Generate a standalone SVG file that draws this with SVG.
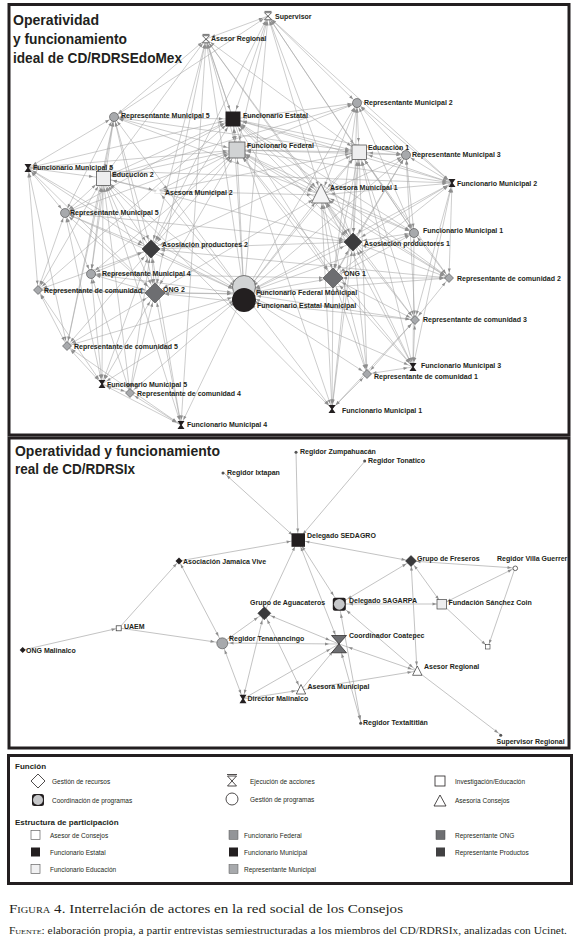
<svg xmlns="http://www.w3.org/2000/svg" width="580" height="942" viewBox="0 0 580 942">
<style>
.c line{stroke:#a4a4a4;stroke-width:0.55;fill:none}
.cb line{stroke:#9a9a9a;stroke-width:0.6;fill:none}
.s3{marker-start:url(#m3)}.s5{marker-start:url(#m5)}.s7{marker-start:url(#m7)}.s9{marker-start:url(#m9)}.s13{marker-start:url(#m13)}
.e3{marker-end:url(#m3)}.e5{marker-end:url(#m5)}.e7{marker-end:url(#m7)}.e9{marker-end:url(#m9)}.e13{marker-end:url(#m13)}
marker path{fill:#8e8e8e}
.panel{fill:none;stroke:#231f20;stroke-width:3}
.lb{font-family:"Liberation Sans",Arial,sans-serif;font-size:7px;font-weight:bold;fill:#231f20}
.tt{font-family:"Liberation Sans",Arial,sans-serif;font-size:15.5px;font-weight:bold;fill:#231f20}
.lh{font-family:"Liberation Sans",Arial,sans-serif;font-size:8px;font-weight:bold;fill:#231f20}
.lt{font-family:"Liberation Sans",Arial,sans-serif;font-size:6.5px;fill:#231f20}
.cap{font-family:"Liberation Serif","Times New Roman",serif;fill:#231f20}
.sc{font-variant:small-caps}
.gc{fill:#a7a9ac;stroke:#333;stroke-width:0.5}
.hg{fill:#231f20}
.hgo{fill:#fff;stroke:#333;stroke-width:0.7}
.rc{fill:#a7a9ac;stroke:#333;stroke-width:0.5}
.ed{fill:#eeeeef;stroke:#444;stroke-width:0.7}
.dot{fill:#555}
</style>
<defs>
<marker id="m3" markerUnits="userSpaceOnUse" orient="auto-start-reverse" refX="7.5" refY="0" markerWidth="10" markerHeight="10" overflow="visible"><path d="M0,-1.5L4,0L0,1.5Z"/></marker>
<marker id="m5" markerUnits="userSpaceOnUse" orient="auto-start-reverse" refX="9.5" refY="0" markerWidth="10" markerHeight="10" overflow="visible"><path d="M0,-1.5L4,0L0,1.5Z"/></marker>
<marker id="m7" markerUnits="userSpaceOnUse" orient="auto-start-reverse" refX="11.5" refY="0" markerWidth="10" markerHeight="10" overflow="visible"><path d="M0,-1.5L4,0L0,1.5Z"/></marker>
<marker id="m9" markerUnits="userSpaceOnUse" orient="auto-start-reverse" refX="14" refY="0" markerWidth="10" markerHeight="10" overflow="visible"><path d="M0,-1.5L4,0L0,1.5Z"/></marker>
<marker id="m13" markerUnits="userSpaceOnUse" orient="auto-start-reverse" refX="17" refY="0" markerWidth="10" markerHeight="10" overflow="visible"><path d="M0,-1.5L4,0L0,1.5Z"/></marker>
</defs>
<rect width="580" height="942" fill="#fff"/>

<!-- panels -->
<rect class="panel" x="9" y="4.5" width="560" height="430.5"/>
<rect class="panel" x="9" y="438" width="560" height="310"/>
<rect class="panel" x="8.5" y="755.5" width="563" height="128"/>

<text class="tt" x="13" y="25" textLength="86" lengthAdjust="spacingAndGlyphs">Operatividad</text>
<text class="tt" x="13" y="43.5" textLength="114" lengthAdjust="spacingAndGlyphs">y funcionamiento</text>
<text class="tt" x="13" y="62.5" textLength="169" lengthAdjust="spacingAndGlyphs">ideal de CD/RDRSEdoMex</text>
<text class="tt" x="15" y="456" textLength="205" lengthAdjust="spacingAndGlyphs">Operatividad y funcionamiento</text>
<text class="tt" x="15" y="474" textLength="120" lengthAdjust="spacingAndGlyphs">real de CD/RDRSIx</text>

<g id="connectors">
<g class="c" id="connectors-ideal">
<line class="s5 e13" x1="268" y1="16" x2="244" y2="294"/>
<line class="s5 e13" x1="206" y1="39" x2="244" y2="294"/>
<line class="s5 e13" x1="114" y1="117" x2="244" y2="294"/>
<line class="s9 e13" x1="233" y1="119" x2="244" y2="294"/>
<line class="s9 e13" x1="237" y1="150" x2="244" y2="294"/>
<line class="s5 e13" x1="28" y1="168" x2="244" y2="294"/>
<line class="s9 e13" x1="103" y1="178" x2="244" y2="294"/>
<line class="s5 e13" x1="158" y1="191" x2="244" y2="294"/>
<line class="s5 e13" x1="65" y1="213" x2="244" y2="294"/>
<line class="s5 e13" x1="357" y1="103" x2="244" y2="294"/>
<line class="s9 e13" x1="359" y1="152" x2="244" y2="294"/>
<line class="s5 e13" x1="406" y1="155" x2="244" y2="294"/>
<line class="s5 e13" x1="452" y1="183" x2="244" y2="294"/>
<line class="s9 e13" x1="321" y1="195" x2="244" y2="294"/>
<line class="s5 e13" x1="414" y1="233" x2="244" y2="294"/>
<line class="s9 e13" x1="353" y1="242" x2="244" y2="294"/>
<line class="s9 e13" x1="333" y1="278" x2="244" y2="294"/>
<line class="s5 e13" x1="449" y1="278" x2="244" y2="294"/>
<line class="s5 e13" x1="415" y1="320" x2="244" y2="294"/>
<line class="s5 e13" x1="413" y1="367" x2="244" y2="294"/>
<line class="s5 e13" x1="367" y1="374" x2="244" y2="294"/>
<line class="s5 e13" x1="332" y1="409" x2="244" y2="294"/>
<line class="s9 e13" x1="151" y1="249" x2="244" y2="294"/>
<line class="s5 e13" x1="91" y1="274" x2="244" y2="294"/>
<line class="s9 e13" x1="155" y1="293" x2="244" y2="294"/>
<line class="s5 e13" x1="38" y1="290" x2="244" y2="294"/>
<line class="s5 e13" x1="67" y1="346" x2="244" y2="294"/>
<line class="s5 e13" x1="102" y1="384" x2="244" y2="294"/>
<line class="s5 e13" x1="130" y1="393" x2="244" y2="294"/>
<line class="s5 e13" x1="181" y1="425" x2="244" y2="294"/>

<line class="s5 e9" x1="268" y1="16" x2="233" y2="119"/>
<line class="s5 e9" x1="206" y1="39" x2="233" y2="119"/>
<line class="s5 e9" x1="114" y1="117" x2="233" y2="119"/>
<line class="s5 e9" x1="28" y1="168" x2="233" y2="119"/>
<line class="s9 e9" x1="103" y1="178" x2="233" y2="119"/>
<line class="s5 e9" x1="357" y1="103" x2="233" y2="119"/>
<line class="s9 e9" x1="359" y1="152" x2="233" y2="119"/>
<line class="s5 e9" x1="406" y1="155" x2="233" y2="119"/>
<line class="s5 e9" x1="452" y1="183" x2="233" y2="119"/>
<line class="s9 e9" x1="321" y1="195" x2="233" y2="119"/>
<line class="s9 e9" x1="353" y1="242" x2="233" y2="119"/>
<line class="s9 e9" x1="333" y1="278" x2="233" y2="119"/>
<line class="s5 e9" x1="65" y1="213" x2="233" y2="119"/>
<line class="s9 e9" x1="151" y1="249" x2="233" y2="119"/>
<line class="s5 e9" x1="38" y1="290" x2="233" y2="119"/>
<line class="s9 e9" x1="237" y1="150" x2="233" y2="119"/>
<line class="s5 e9" x1="449" y1="278" x2="233" y2="119"/>
<line class="s5 e9" x1="414" y1="233" x2="233" y2="119"/>

<line class="s5 e9" x1="268" y1="16" x2="237" y2="150"/>
<line class="s5 e9" x1="206" y1="39" x2="237" y2="150"/>
<line class="s5 e9" x1="114" y1="117" x2="237" y2="150"/>
<line class="s5 e9" x1="28" y1="168" x2="237" y2="150"/>
<line class="s9 e9" x1="103" y1="178" x2="237" y2="150"/>
<line class="s5 e9" x1="158" y1="191" x2="237" y2="150"/>
<line class="s5 e9" x1="357" y1="103" x2="237" y2="150"/>
<line class="s9 e9" x1="359" y1="152" x2="237" y2="150"/>
<line class="s5 e9" x1="406" y1="155" x2="237" y2="150"/>
<line class="s5 e9" x1="452" y1="183" x2="237" y2="150"/>
<line class="s9 e9" x1="321" y1="195" x2="237" y2="150"/>
<line class="s9 e9" x1="353" y1="242" x2="237" y2="150"/>
<line class="s9 e9" x1="333" y1="278" x2="237" y2="150"/>
<line class="s9 e9" x1="151" y1="249" x2="237" y2="150"/>
<line class="s9 e9" x1="155" y1="293" x2="237" y2="150"/>
<line class="s5 e9" x1="65" y1="213" x2="237" y2="150"/>
<line class="s5 e9" x1="91" y1="274" x2="237" y2="150"/>
<line class="s5 e9" x1="414" y1="233" x2="237" y2="150"/>
<line class="s5 e9" x1="449" y1="278" x2="237" y2="150"/>
<line class="s5 e9" x1="413" y1="367" x2="237" y2="150"/>

<line class="s5 e9" x1="268" y1="16" x2="359" y2="152"/>
<line class="s5 e9" x1="206" y1="39" x2="359" y2="152"/>
<line class="s5 e9" x1="357" y1="103" x2="359" y2="152"/>
<line class="s5 e9" x1="406" y1="155" x2="359" y2="152"/>
<line class="s5 e9" x1="452" y1="183" x2="359" y2="152"/>
<line class="s9 e9" x1="321" y1="195" x2="359" y2="152"/>
<line class="s9 e9" x1="353" y1="242" x2="359" y2="152"/>
<line class="s9 e9" x1="333" y1="278" x2="359" y2="152"/>
<line class="s5 e9" x1="414" y1="233" x2="359" y2="152"/>
<line class="s5 e9" x1="449" y1="278" x2="359" y2="152"/>
<line class="s5 e9" x1="415" y1="320" x2="359" y2="152"/>
<line class="s5 e9" x1="413" y1="367" x2="359" y2="152"/>
<line class="s5 e9" x1="367" y1="374" x2="359" y2="152"/>
<line class="s5 e9" x1="332" y1="409" x2="359" y2="152"/>
<line class="s9 e9" x1="151" y1="249" x2="359" y2="152"/>
<line class="s5 e9" x1="114" y1="117" x2="359" y2="152"/>
<line class="s5 e9" x1="158" y1="191" x2="359" y2="152"/>

<line class="s5 e9" x1="206" y1="39" x2="103" y2="178"/>
<line class="s5 e9" x1="114" y1="117" x2="103" y2="178"/>
<line class="s5 e9" x1="28" y1="168" x2="103" y2="178"/>
<line class="s5 e9" x1="65" y1="213" x2="103" y2="178"/>
<line class="s5 e9" x1="91" y1="274" x2="103" y2="178"/>
<line class="s9 e9" x1="151" y1="249" x2="103" y2="178"/>
<line class="s9 e9" x1="155" y1="293" x2="103" y2="178"/>
<line class="s5 e9" x1="38" y1="290" x2="103" y2="178"/>
<line class="s5 e9" x1="67" y1="346" x2="103" y2="178"/>
<line class="s5 e9" x1="102" y1="384" x2="103" y2="178"/>
<line class="s5 e9" x1="130" y1="393" x2="103" y2="178"/>
<line class="s5 e9" x1="181" y1="425" x2="103" y2="178"/>
<line class="s5 e9" x1="158" y1="191" x2="103" y2="178"/>
<line class="s5 e9" x1="357" y1="103" x2="103" y2="178"/>
<line class="s5 e9" x1="332" y1="409" x2="103" y2="178"/>

<line class="s5 e9" x1="268" y1="16" x2="321" y2="195"/>
<line class="s5 e9" x1="206" y1="39" x2="321" y2="195"/>
<line class="s5 e9" x1="357" y1="103" x2="321" y2="195"/>
<line class="s5 e9" x1="406" y1="155" x2="321" y2="195"/>
<line class="s5 e9" x1="452" y1="183" x2="321" y2="195"/>
<line class="s9 e9" x1="353" y1="242" x2="321" y2="195"/>
<line class="s9 e9" x1="333" y1="278" x2="321" y2="195"/>
<line class="s5 e9" x1="414" y1="233" x2="321" y2="195"/>
<line class="s5 e9" x1="449" y1="278" x2="321" y2="195"/>
<line class="s5 e9" x1="415" y1="320" x2="321" y2="195"/>
<line class="s5 e9" x1="413" y1="367" x2="321" y2="195"/>
<line class="s5 e9" x1="367" y1="374" x2="321" y2="195"/>
<line class="s5 e9" x1="332" y1="409" x2="321" y2="195"/>
<line class="s5 e9" x1="158" y1="191" x2="321" y2="195"/>
<line class="s5 e9" x1="114" y1="117" x2="321" y2="195"/>
<line class="s9 e9" x1="155" y1="293" x2="321" y2="195"/>

<line class="s5 e9" x1="357" y1="103" x2="353" y2="242"/>
<line class="s5 e9" x1="406" y1="155" x2="353" y2="242"/>
<line class="s5 e9" x1="452" y1="183" x2="353" y2="242"/>
<line class="s5 e9" x1="414" y1="233" x2="353" y2="242"/>
<line class="s5 e9" x1="449" y1="278" x2="353" y2="242"/>
<line class="s5 e9" x1="415" y1="320" x2="353" y2="242"/>
<line class="s5 e9" x1="413" y1="367" x2="353" y2="242"/>
<line class="s5 e9" x1="367" y1="374" x2="353" y2="242"/>
<line class="s5 e9" x1="332" y1="409" x2="353" y2="242"/>
<line class="s9 e9" x1="333" y1="278" x2="353" y2="242"/>
<line class="s5 e9" x1="206" y1="39" x2="353" y2="242"/>
<line class="s5 e9" x1="268" y1="16" x2="353" y2="242"/>
<line class="s9 e9" x1="151" y1="249" x2="353" y2="242"/>
<line class="s5 e9" x1="65" y1="213" x2="353" y2="242"/>
<line class="s9 e9" x1="103" y1="178" x2="353" y2="242"/>

<line class="s5 e9" x1="114" y1="117" x2="151" y2="249"/>
<line class="s5 e9" x1="28" y1="168" x2="151" y2="249"/>
<line class="s5 e9" x1="65" y1="213" x2="151" y2="249"/>
<line class="s5 e9" x1="91" y1="274" x2="151" y2="249"/>
<line class="s9 e9" x1="155" y1="293" x2="151" y2="249"/>
<line class="s5 e9" x1="38" y1="290" x2="151" y2="249"/>
<line class="s5 e9" x1="67" y1="346" x2="151" y2="249"/>
<line class="s5 e9" x1="102" y1="384" x2="151" y2="249"/>
<line class="s5 e9" x1="130" y1="393" x2="151" y2="249"/>
<line class="s5 e9" x1="181" y1="425" x2="151" y2="249"/>
<line class="s5 e9" x1="206" y1="39" x2="151" y2="249"/>
<line class="s5 e9" x1="268" y1="16" x2="151" y2="249"/>
<line class="s5 e9" x1="449" y1="278" x2="151" y2="249"/>

<line class="s5 e9" x1="406" y1="155" x2="333" y2="278"/>
<line class="s5 e9" x1="452" y1="183" x2="333" y2="278"/>
<line class="s5 e9" x1="414" y1="233" x2="333" y2="278"/>
<line class="s5 e9" x1="449" y1="278" x2="333" y2="278"/>
<line class="s5 e9" x1="415" y1="320" x2="333" y2="278"/>
<line class="s5 e9" x1="413" y1="367" x2="333" y2="278"/>
<line class="s5 e9" x1="367" y1="374" x2="333" y2="278"/>
<line class="s5 e9" x1="332" y1="409" x2="333" y2="278"/>
<line class="s5 e9" x1="357" y1="103" x2="333" y2="278"/>
<line class="s5 e9" x1="91" y1="274" x2="333" y2="278"/>

<line class="s5 e9" x1="114" y1="117" x2="155" y2="293"/>
<line class="s5 e9" x1="28" y1="168" x2="155" y2="293"/>
<line class="s5 e9" x1="65" y1="213" x2="155" y2="293"/>
<line class="s5 e9" x1="91" y1="274" x2="155" y2="293"/>
<line class="s5 e9" x1="38" y1="290" x2="155" y2="293"/>
<line class="s5 e9" x1="67" y1="346" x2="155" y2="293"/>
<line class="s5 e9" x1="102" y1="384" x2="155" y2="293"/>
<line class="s5 e9" x1="130" y1="393" x2="155" y2="293"/>
<line class="s5 e9" x1="181" y1="425" x2="155" y2="293"/>
<line class="s5 e9" x1="206" y1="39" x2="155" y2="293"/>
<line class="s5 e9" x1="415" y1="320" x2="155" y2="293"/>

<line class="s5 e5" x1="357" y1="103" x2="406" y2="155"/>
<line class="s5 e5" x1="357" y1="103" x2="452" y2="183"/>
<line class="s5 e5" x1="406" y1="155" x2="452" y2="183"/>
<line class="s5 e5" x1="406" y1="155" x2="414" y2="233"/>
<line class="s5 e5" x1="452" y1="183" x2="449" y2="278"/>
<line class="s5 e5" x1="414" y1="233" x2="449" y2="278"/>
<line class="s5 e5" x1="449" y1="278" x2="415" y2="320"/>
<line class="s5 e5" x1="415" y1="320" x2="413" y2="367"/>
<line class="s5 e5" x1="415" y1="320" x2="367" y2="374"/>
<line class="s5 e5" x1="413" y1="367" x2="367" y2="374"/>
<line class="s5 e5" x1="367" y1="374" x2="332" y2="409"/>
<line class="s5 e5" x1="332" y1="409" x2="415" y2="320"/>
<line class="s5 e5" x1="357" y1="103" x2="414" y2="233"/>
<line class="s5 e5" x1="268" y1="16" x2="357" y2="103"/>
<line class="s5 e5" x1="268" y1="16" x2="206" y2="39"/>
<line class="s5 e5" x1="268" y1="16" x2="114" y2="117"/>
<line class="s5 e5" x1="206" y1="39" x2="114" y2="117"/>
<line class="s5 e5" x1="206" y1="39" x2="181" y2="425"/>
<line class="s5 e5" x1="114" y1="117" x2="28" y2="168"/>
<line class="s5 e5" x1="114" y1="117" x2="65" y2="213"/>
<line class="s5 e5" x1="114" y1="117" x2="91" y2="274"/>
<line class="s5 e5" x1="114" y1="117" x2="67" y2="346"/>
<line class="s5 e5" x1="28" y1="168" x2="65" y2="213"/>
<line class="s5 e5" x1="28" y1="168" x2="38" y2="290"/>
<line class="s5 e5" x1="28" y1="168" x2="67" y2="346"/>
<line class="s5 e5" x1="65" y1="213" x2="91" y2="274"/>
<line class="s5 e5" x1="65" y1="213" x2="38" y2="290"/>
<line class="s5 e5" x1="65" y1="213" x2="102" y2="384"/>
<line class="s5 e5" x1="38" y1="290" x2="67" y2="346"/>
<line class="s5 e5" x1="38" y1="290" x2="102" y2="384"/>
<line class="s5 e5" x1="67" y1="346" x2="102" y2="384"/>
<line class="s5 e5" x1="67" y1="346" x2="181" y2="425"/>
<line class="s5 e5" x1="102" y1="384" x2="130" y2="393"/>
<line class="s5 e5" x1="102" y1="384" x2="181" y2="425"/>
<line class="s5 e5" x1="130" y1="393" x2="181" y2="425"/>
<line class="s5 e5" x1="91" y1="274" x2="102" y2="384"/>
<line class="s5 e5" x1="91" y1="274" x2="130" y2="393"/>
<line class="s5 e5" x1="452" y1="183" x2="413" y2="367"/>
<line class="s5 e5" x1="452" y1="183" x2="415" y2="320"/>
<line class="s5 e5" x1="406" y1="155" x2="415" y2="320"/>
<line class="s5 e5" x1="414" y1="233" x2="413" y2="367"/>
<line class="s5 e5" x1="268" y1="16" x2="414" y2="233"/>
<line class="s5 e5" x1="206" y1="39" x2="332" y2="409"/>
<line class="s5 e5" x1="268" y1="16" x2="452" y2="183"/>
<line class="s5 e5" x1="28" y1="168" x2="452" y2="183"/>
</g>

<g class="cb" id="connectors-real">
<line class="e7" x1="296" y1="452" x2="298" y2="540"/>
<line class="e7" x1="365" y1="461" x2="298" y2="540"/>
<line class="s3 e7" x1="224" y1="473" x2="298" y2="540"/>
<line class="e7" x1="179" y1="561" x2="298" y2="540"/>
<line class="s7 e5" x1="298" y1="540" x2="411" y2="561"/>
<line class="s5 e3" x1="411" y1="561" x2="515" y2="568"/>
<line class="e7" x1="264" y1="613" x2="298" y2="540"/>
<line class="s7 e9" x1="298" y1="540" x2="339" y2="644"/>
<line class="s7 e9" x1="298" y1="540" x2="339" y2="604"/>
<line class="s5 e9" x1="411" y1="561" x2="339" y2="604"/>
<line class="s5 e5" x1="411" y1="561" x2="417" y2="671"/>
<line class="s5 e5" x1="411" y1="561" x2="442" y2="604"/>
<line class="s5 e3" x1="442" y1="604" x2="515" y2="568"/>
<line class="e3" x1="515" y1="568" x2="488" y2="647"/>
<line class="e3" x1="442" y1="604" x2="488" y2="647"/>
<line class="s9 e5" x1="339" y1="604" x2="442" y2="604"/>
<line class="s9 e5" x1="339" y1="604" x2="417" y2="671"/>
<line class="s9 e3" x1="339" y1="604" x2="361" y2="723"/>
<line class="s9 e3" x1="339" y1="644" x2="361" y2="723"/>
<line class="s9 e5" x1="339" y1="644" x2="417" y2="671"/>
<line class="s9 e7" x1="339" y1="644" x2="264" y2="613"/>
<line class="s9 e7" x1="339" y1="644" x2="222" y2="643"/>
<line class="e9" x1="243" y1="699" x2="339" y2="644"/>
<line class="e9" x1="301" y1="690" x2="339" y2="644"/>
<line class="s7 e7" x1="264" y1="613" x2="222" y2="643"/>
<line class="s7 e5" x1="264" y1="613" x2="243" y2="699"/>
<line class="s7 e5" x1="264" y1="613" x2="301" y2="690"/>
<line class="s7 e5" x1="222" y1="643" x2="243" y2="699"/>
<line class="e5" x1="243" y1="699" x2="301" y2="690"/>
<line class="e5" x1="301" y1="690" x2="417" y2="671"/>
<line class="e3" x1="417" y1="671" x2="501" y2="735"/>
<line class="s7 e3" x1="222" y1="643" x2="179" y2="561"/>
<line class="e3" x1="119" y1="628" x2="179" y2="561"/>
<line class="e7" x1="119" y1="628" x2="222" y2="643"/>
<line class="e3" x1="23" y1="650" x2="119" y2="628"/>
</g>
</g>

<!-- ideal network nodes -->
<g id="n-supervisor"><path class="hgo" transform="translate(268,16)" d="M-3.5,-4.6H3.5M-3.5,-3.3H3.5L-3.5,3.8H3.5Z"/><text class="lb" x="275" y="19">Supervisor</text></g>
<g id="n-asesor-regional"><path class="hgo" transform="translate(206,39)" d="M-3.5,-4.6H3.5M-3.5,-3.3H3.5L-3.5,3.8H3.5Z"/><text class="lb" x="211" y="40.5">Asesor Regional</text></g>
<g id="n-rep-mun-5a"><circle class="gc" cx="114" cy="117" r="4.5"/><text class="lb" x="121" y="118">Representante Municipal 5</text></g>
<g id="n-func-estatal"><rect x="225.5" y="111.5" width="15" height="15" fill="#231f20"/><text class="lb" x="243" y="118">Funcionario Estatal</text></g>
<g id="n-func-federal"><rect x="229" y="142" width="16" height="16" fill="#d1d3d4" stroke="#444" stroke-width="0.7"/><text class="lb" x="247" y="148">Funcionario Federal</text></g>
<g id="n-func-mun-5a"><path class="hg" transform="translate(28,168)" d="M-3.5,-4H3.5L0.7,0L3.5,4H-3.5L-0.7,0Z"/><text class="lb" x="33" y="169.5">Funcionario Municipal 5</text></g>
<g id="n-educucion-2"><rect class="ed" x="96.5" y="171.5" width="14" height="14"/><text class="lb" x="112" y="176.5">Educución 2</text></g>
<g id="n-asesora-mun-2"><path d="M158,187.5L161.5,193.5H154.5Z" fill="#fff" stroke="#ddd" stroke-width="0.5"/><text class="lb" x="165" y="194.5">Asesora Municipal 2</text></g>
<g id="n-rep-mun-5b"><circle class="gc" cx="65" cy="213" r="4.5"/><text class="lb" x="70" y="214.5">Representante Municipal 5</text></g>
<g id="n-rep-mun-2"><circle class="gc" cx="357" cy="103" r="4.5"/><text class="lb" x="364" y="105">Representante Municipal 2</text></g>
<g id="n-educacion-1"><rect class="ed" x="352" y="145" width="14.5" height="14.5"/><text class="lb" x="368" y="149.5">Educación 1</text></g>
<g id="n-rep-mun-3"><circle class="gc" cx="406" cy="155" r="4.5"/><text class="lb" x="412" y="156.5">Representante Municipal 3</text></g>
<g id="n-func-mun-2"><path class="hg" transform="translate(452,183)" d="M-3.5,-4H3.5L0.7,0L3.5,4H-3.5L-0.7,0Z"/><text class="lb" x="457" y="185.5">Funcionario Municipal 2</text></g>
<g id="n-asesora-mun-1"><path d="M321,184L330.5,203H311.5Z" fill="#f4f4f5" stroke="#444" stroke-width="0.7"/><text class="lb" x="330" y="190">Asesora Municipal 1</text></g>
<g id="n-func-mun-1c"><circle class="gc" cx="414" cy="233" r="4.5"/><text class="lb" x="423" y="232.5">Funcionario Municipal 1</text></g>
<g id="n-asoc-prod-1"><path d="M353,233L362,242L353,251L344,242Z" fill="#3c3c3e" stroke="#222" stroke-width="0.5"/><text class="lb" x="364" y="245.5">Asosiación productores 1</text></g>
<g id="n-ong-1"><path d="M333,268L343,278L333,288L323,278Z" fill="#6d6e71" stroke="#333" stroke-width="0.5"/><text class="lb" x="344" y="275.5">ONG 1</text></g>
<g id="n-rep-com-2"><path class="rc" d="M449,273.5L453.5,278L449,282.5L444.5,278Z"/><text class="lb" x="457" y="280.5">Representante de comunidad 2</text></g>
<g id="n-rep-com-3"><path class="rc" d="M415,315.5L419.5,320L415,324.5L410.5,320Z"/><text class="lb" x="423" y="321.5">Representante de comunidad 3</text></g>
<g id="n-func-mun-3"><path class="hg" transform="translate(413,367)" d="M-3.5,-4H3.5L0.7,0L3.5,4H-3.5L-0.7,0Z"/><text class="lb" x="421" y="367.5">Funcionario Municipal 3</text></g>
<g id="n-rep-com-1"><path class="rc" d="M367,369.5L371.5,374L367,378.5L362.5,374Z"/><text class="lb" x="374" y="378.5">Representante de comunidad 1</text></g>
<g id="n-func-mun-1"><path class="hg" transform="translate(332,409)" d="M-3.5,-4H3.5L0.7,0L3.5,4H-3.5L-0.7,0Z"/><text class="lb" x="342" y="412.5">Funcionario Municipal 1</text></g>
<g id="n-func-fed-mun"><circle cx="244" cy="287" r="11.5" fill="#d1d3d4" stroke="#333" stroke-width="0.6"/><text class="lb" x="256" y="295">Funcionario Federal Municipal</text></g>
<g id="n-func-est-mun"><circle cx="244" cy="300" r="12" fill="#231f20"/><text class="lb" x="257" y="308">Funcionario Estatal Municipal</text></g>
<g id="n-asoc-prod-2"><path d="M151,240L160,249L151,258L142,249Z" fill="#3c3c3e" stroke="#222" stroke-width="0.5"/><text class="lb" x="162" y="246.5">Asosiación productores 2</text></g>
<g id="n-rep-mun-4"><circle class="gc" cx="91" cy="274" r="4.5"/><text class="lb" x="102" y="275.5">Representante Municipal 4</text></g>
<g id="n-ong-2"><path d="M155,283L165,293L155,303L145,293Z" fill="#6d6e71" stroke="#333" stroke-width="0.5"/><text class="lb" x="163" y="291.5">ONG 2</text></g>
<g id="n-rep-com"><path class="rc" d="M38,285.5L42.5,290L38,294.5L33.5,290Z"/><text class="lb" x="44" y="292.5">Representante de comunidad</text></g>
<g id="n-rep-com-5"><path class="rc" d="M67,341.5L71.5,346L67,350.5L62.5,346Z"/><text class="lb" x="74" y="348.5">Representante de comunidad 5</text></g>
<g id="n-func-mun-5b"><path class="hg" transform="translate(102,384)" d="M-3.5,-4H3.5L0.7,0L3.5,4H-3.5L-0.7,0Z"/><text class="lb" x="107" y="386.5">Funcionario Municipal 5</text></g>
<g id="n-rep-com-4"><path class="rc" d="M130,388.5L134.5,393L130,397.5L125.5,393Z"/><text class="lb" x="137" y="395.5">Representante de comunidad 4</text></g>
<g id="n-func-mun-4"><path class="hg" transform="translate(181,425)" d="M-3.5,-4H3.5L0.7,0L3.5,4H-3.5L-0.7,0Z"/><text class="lb" x="187" y="426.5">Funcionario Municipal 4</text></g>

<!-- real network nodes -->
<g id="r-sedagro"><rect x="291.5" y="533.3" width="13.5" height="13.5" fill="#231f20"/><text class="lb" x="307" y="537.5">Delegado SEDAGRO</text></g>
<g id="r-zumpahuacan"><circle class="dot" cx="296" cy="452.3" r="1.5"/><text class="lb" x="300" y="454">Regidor Zumpahuacán</text></g>
<g id="r-tonatico"><circle class="dot" cx="364.7" cy="461" r="1.5"/><text class="lb" x="368" y="462.5">Regidor Tonatico</text></g>
<g id="r-ixtapan"><circle class="dot" cx="223" cy="473" r="1.5"/><text class="lb" x="227" y="475">Regidor Ixtapan</text></g>
<g id="r-freseros"><path d="M411,555.5L416.5,561L411,566.5L405.5,561Z" fill="#3a3a3c" stroke="#222" stroke-width="0.5"/><text class="lb" x="417" y="560.5">Grupo de Freseros</text></g>
<g id="r-villa-guerrero"><circle cx="515.3" cy="568.3" r="2.3" fill="#fff" stroke="#444" stroke-width="0.8"/><text class="lb" x="497" y="560.5">Regidor Villa Guerrer</text></g>
<g id="r-jamaica"><path d="M179,557.5L182.5,561L179,564.5L175.5,561Z" fill="#231f20"/><text class="lb" x="183" y="563.5">Asociación Jamaica Vive</text></g>
<g id="r-uaem"><rect x="116.2" y="625.8" width="5" height="5" fill="#fff" stroke="#333" stroke-width="0.7"/><text class="lb" x="124" y="628.5">UAEM</text></g>
<g id="r-ong-malinalco"><path d="M22.7,647L25.7,650L22.7,653L19.7,650Z" fill="#231f20"/><text class="lb" x="26" y="652.5">ONG Malinalco</text></g>
<g id="r-tenanancingo"><circle class="gc" cx="222.3" cy="643.3" r="5.5"/><text class="lb" x="229" y="640.5">Regidor Tenanancingo</text></g>
<g id="r-aguacateros"><path d="M264.3,606.8L270.8,613.3L264.3,619.8L257.8,613.3Z" fill="#3a3a3c" stroke="#222" stroke-width="0.5"/><text class="lb" x="250" y="604.5">Grupo de Aguacateros</text></g>
<g id="r-sagarpa"><rect x="332.8" y="597.8" width="13" height="13" rx="2" fill="#231f20"/><circle cx="339.3" cy="604.3" r="5.4" fill="#c7c8ca"/><text class="lb" x="349" y="602.5">Delegado SAGARPA</text></g>
<g id="r-coatepec"><path d="M331.5,635.5H346.5L339,644L346.5,652.8H331.5L339,644Z" fill="#6d6e71" stroke="#231f20" stroke-width="0.7"/><text class="lb" x="349" y="638">Coordinador Coatepec</text></g>
<g id="r-fundacion"><rect class="ed" x="437" y="599.5" width="9.5" height="9.5"/><text class="lb" x="448.5" y="605">Fundación Sánchez Coin</text></g>
<g id="r-square"><rect x="485.5" y="644.5" width="4.5" height="4.5" fill="#fff" stroke="#333" stroke-width="0.6"/></g>
<g id="r-asesor-regional"><path d="M417.3,666L422,675.3H412.6Z" fill="#fff" stroke="#333" stroke-width="0.7"/><text class="lb" x="424" y="669">Asesor Regional</text></g>
<g id="r-asesora-municipal"><path d="M301,684.5L305.7,694H296.3Z" fill="#fff" stroke="#333" stroke-width="0.7"/><text class="lb" x="307.5" y="688.5">Asesora Municipal</text></g>
<g id="r-director"><path class="hg" d="M239.5,694.8H246.5L243.8,699L246.5,703.3H239.5L242.2,699Z"/><text class="lb" x="247.5" y="700.5">Director Malinalco</text></g>
<g id="r-textaltitlan"><circle class="dot" cx="360.7" cy="723.3" r="1.5"/><text class="lb" x="363" y="725">Regidor Textaltitlán</text></g>
<g id="r-supervisor-regional"><circle class="dot" cx="500.7" cy="735.3" r="1.5"/><text class="lb" x="496.5" y="744">Supervisor Regional</text></g>

<!-- legend -->
<g id="legend">
<text class="lh" x="15" y="769">Función</text>
<path d="M38,774L45,781L38,788L31,781Z" fill="#fff" stroke="#231f20" stroke-width="0.8"/>
<text class="lt" x="52" y="783.5">Gestión de recursos</text>
<path d="M227,774.5H237M227.5,776H236.5L227.5,786H236.5Z" fill="#fff" stroke="#231f20" stroke-width="0.8"/>
<text class="lt" x="250" y="783.5">Ejecución de acciones</text>
<rect x="435" y="776" width="10" height="10" fill="#fff" stroke="#231f20" stroke-width="0.8"/>
<text class="lt" x="455" y="783.5">Investigación/Educación</text>
<rect x="32" y="794" width="12" height="12" rx="2.5" fill="#231f20"/>
<circle cx="38" cy="800" r="5" fill="#c7c8ca"/>
<text class="lt" x="52" y="802.5">Coordinación de programas</text>
<circle cx="232" cy="799" r="6" fill="#fff" stroke="#231f20" stroke-width="0.8"/>
<text class="lt" x="250" y="801.5">Gestión de programas</text>
<path d="M440,795L446,806H434Z" fill="#fff" stroke="#231f20" stroke-width="0.8"/>
<text class="lt" x="455" y="802.5">Asesoría Consejos</text>
<text class="lh" x="15" y="825">Estructura de participación</text>
<rect x="31" y="830.5" width="9" height="9" fill="#fff" stroke="#666" stroke-width="0.7"/>
<text class="lt" x="50" y="837.5">Asesor de Consejos</text>
<rect x="229" y="830.5" width="9" height="9" fill="#939598" stroke="#555" stroke-width="0.5"/>
<text class="lt" x="244" y="837.5">Funcionario Federal</text>
<rect x="436" y="830.5" width="9" height="9" fill="#6d6e71" stroke="#444" stroke-width="0.5"/>
<text class="lt" x="455" y="837.5">Representante ONG</text>
<rect x="31" y="847.5" width="9" height="9" fill="#231f20"/>
<text class="lt" x="50" y="854.5">Funcionario Estatal</text>
<rect x="229" y="847.5" width="9" height="9" fill="#231f20"/>
<text class="lt" x="244" y="854.5">Funcionario Municipal</text>
<rect x="436" y="847.5" width="9" height="9" fill="#414042"/>
<text class="lt" x="455" y="854.5">Representante Productos</text>
<rect x="31" y="864.5" width="9" height="9" fill="#f1f1f2" stroke="#666" stroke-width="0.7"/>
<text class="lt" x="50" y="871.5">Funcionario Educación</text>
<rect x="229" y="864.5" width="9" height="9" fill="#a7a9ac" stroke="#555" stroke-width="0.5"/>
<text class="lt" x="244" y="871.5">Representante Municipal</text>
</g>

<text class="cap" x="9" y="913" font-size="13" textLength="394" lengthAdjust="spacingAndGlyphs"><tspan class="sc">Figura</tspan> 4. Interrelación de actores en la red social de los Consejos</text>
<text class="cap" x="9" y="934" font-size="10" textLength="558" lengthAdjust="spacingAndGlyphs"><tspan class="sc">Fuente</tspan>: elaboración propia, a partir entrevistas semiestructuradas a los miembros del CD/RDRSIx, analizadas con Ucinet.</text>
</svg>
